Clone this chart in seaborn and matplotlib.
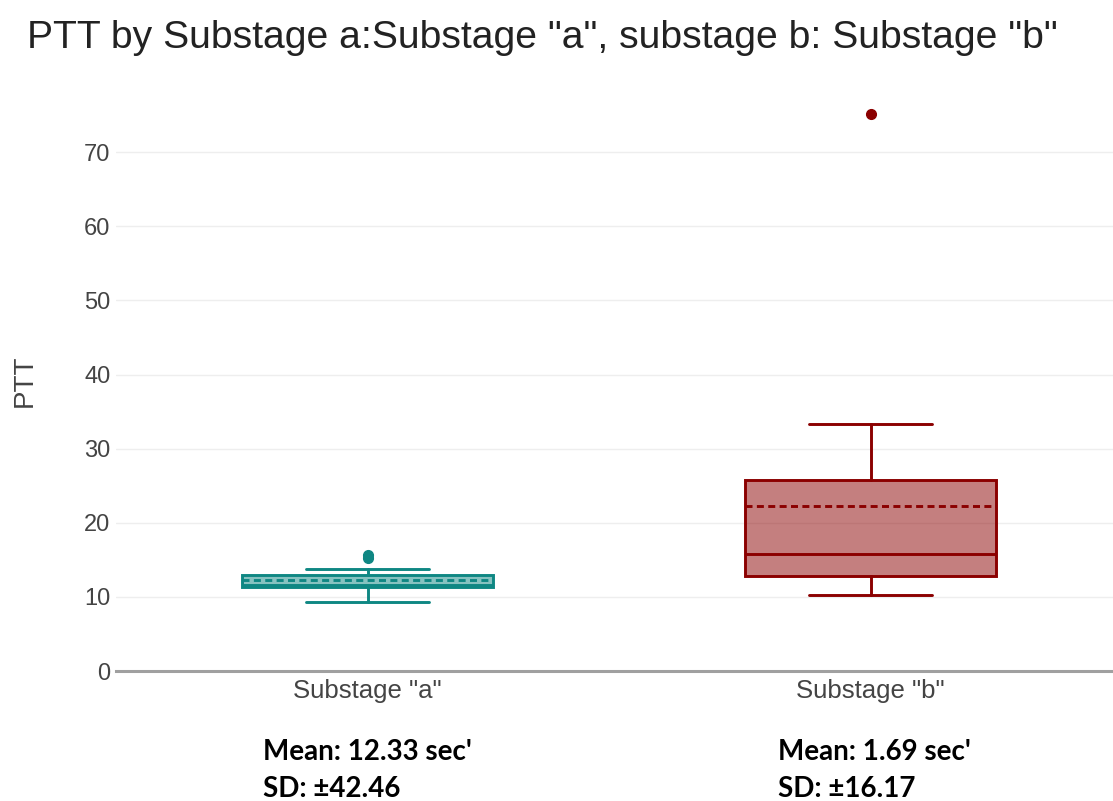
import matplotlib
matplotlib.use("Agg")
import matplotlib.pyplot as plt
import seaborn as sns

# Box statistics per substage (PTT, seconds)
categories = ['Substage "a"', 'Substage "b"']
q1 = [11.3, 12.8]
medians = [11.6, 15.8]
q3 = [13.0, 25.8]
whisker_low = [9.3, 10.3]
whisker_high = [13.8, 33.3]
means = [12.33, 22.3]
outliers = [[15.3, 15.7], [75.2]]
line_colors = ["#0f8783", "#8b0000"]

mean_notes = ["Mean: 12.33 sec'", "Mean: 1.69 sec'"]
sd_notes = ["SD: \u00b142.46", "SD: \u00b116.17"]

sns.set_theme(style="white")
plt.rcParams["font.family"] = ["Liberation Sans", "DejaVu Sans"]

fig = plt.figure(figsize=(11.13, 8.01), dpi=100)
ax = fig.add_axes([116 / 1113, 130 / 801, 1 - 116 / 1113, 581 / 801])

lw = 2.1
for i, cat in enumerate(categories):
    stats = [{
        "label": cat,
        "q1": q1[i], "med": medians[i], "q3": q3[i],
        "whislo": whisker_low[i], "whishi": whisker_high[i],
        "mean": means[i], "fliers": outliers[i],
    }]
    c = line_colors[i]
    ax.bxp(
        stats, positions=[i], widths=0.5, capwidths=0.245,
        patch_artist=True, showmeans=True, meanline=True,
        boxprops=dict(facecolor=matplotlib.colors.to_rgba(c, 0.5), edgecolor=c, linewidth=lw),
        medianprops=dict(color=c, linewidth=lw),
        meanprops=dict(color=c, linewidth=lw, linestyle=(0, (2.4, 1.5))),
        whiskerprops=dict(color=c, linewidth=lw),
        capprops=dict(color=c, linewidth=lw),
        flierprops=dict(marker="o", markerfacecolor=c, markeredgecolor=c, markersize=7),
        manage_ticks=False,
    )

ax.set_xlim(-0.5, -0.5 + (1113 - 116) / 503)
ax.set_ylim(0, 78.4)
ax.set_xticks(range(len(categories)))
ax.set_xticklabels(categories)
ax.set_yticks(range(0, 71, 10))
ax.tick_params(axis="both", length=0, labelcolor="#444444")
ax.tick_params(axis="x", labelsize=18.5, pad=6)
ax.tick_params(axis="y", labelsize=17, pad=4)
ax.grid(axis="y", color="#eeeeee", linewidth=1.0)
ax.set_axisbelow(True)
for side in ["top", "right", "left"]:
    ax.spines[side].set_visible(False)
ax.spines["bottom"].set_color("#a0a0a0")
ax.spines["bottom"].set_linewidth(2.2)

ax.set_xlabel("")
ax.set_ylabel("PTT", fontsize=20, color="#444444", labelpad=33)

fig.text(27 / 1113, 1 - 48 / 801, 'PTT by Substage a:Substage "a", substage b: Substage "b"',
         fontsize=28.2, color="#222222", ha="left", va="baseline")

note_x = [263, 778]
for i in range(len(categories)):
    fig.text(note_x[i] / 1113, 1 - 760 / 801, mean_notes[i], fontsize=20,
             fontweight="bold", family=["Lato", "DejaVu Sans"], ha="left", va="baseline", color="black")
    fig.text(note_x[i] / 1113, 1 - 797 / 801, sd_notes[i], fontsize=20,
             fontweight="bold", family=["Lato", "DejaVu Sans"], ha="left", va="baseline", color="black")

fig.savefig("out.png", dpi=100)
